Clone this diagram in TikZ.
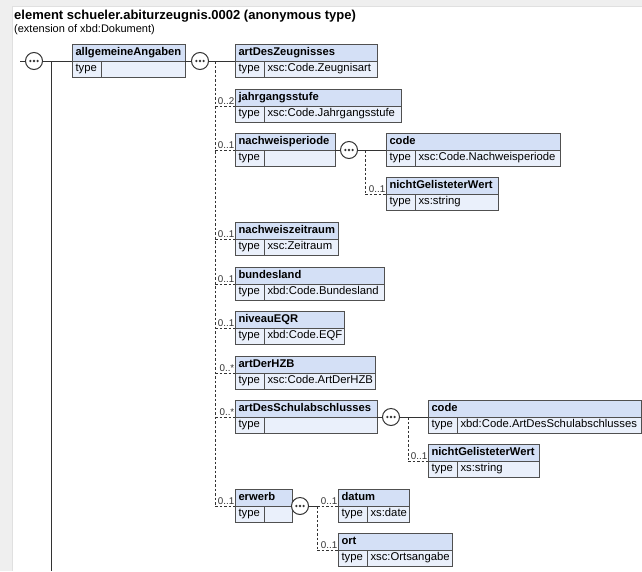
\documentclass[tikz,border=0pt]{standalone}
\usepackage{fontspec}
\setmainfont{Liberation Sans}
\usetikzlibrary{calc}
\definecolor{bx}{HTML}{505050}
\definecolor{hfill}{HTML}{D4E0F6}
\definecolor{tfill}{HTML}{EAF0FB}
\definecolor{margin}{HTML}{EFEFEF}
\definecolor{ln}{HTML}{333333}
\newcommand{\elem}[6]{%
  \pgfmathsetmacro\hw{#4-7}%
  \pgfmathsetmacro\vw{#4-29-7}%
  \node[hdr,text width=\hw pt] (#1) at (#2,#3) {#5};
  \node[tylab] (#1-t) at (#1.south west) {type};
  \node[tyval,text width=\vw pt] (#1-v) at (#1-t.north east) {#6};
}
\begin{document}
\begin{tikzpicture}[x=1pt,y=-1pt,
  hdr/.style={draw=bx, fill=hfill, line width=0.8pt, outer sep=0pt, minimum height=17pt, inner xsep=3.5pt, inner ysep=0pt,
     font=\fontsize{11.2}{13}\selectfont\bfseries, text height=8.5pt, text depth=2.5pt, align=left, anchor=north west},
  tylab/.style={draw=bx, fill=tfill, line width=0.8pt, outer sep=0pt, minimum height=16pt, text width=22pt, inner xsep=3.5pt, inner ysep=0pt,
     font=\fontsize{11.3}{13}\selectfont, text height=7.8pt, text depth=2.5pt, align=left, anchor=north west},
  tyval/.style={draw=bx, fill=tfill, line width=0.8pt, outer sep=0pt, minimum height=16pt, inner xsep=3.5pt, inner ysep=0pt,
     font=\fontsize{11.3}{13}\selectfont, text height=7.8pt, text depth=2.5pt, align=left, anchor=north west},
  seq/.style={circle, draw=ln, fill=white, line width=1pt, minimum size=17pt, inner sep=0pt,
     path picture={\fill[ln] ([xshift=-3.6pt]path picture bounding box.center) circle (1.3pt)
        (path picture bounding box.center) circle (1.3pt)
        ([xshift=3.6pt]path picture bounding box.center) circle (1.3pt);}},
  sol/.style={draw=ln, line width=0.8pt},
  dsh/.style={draw=ln, line width=0.8pt, dash pattern=on 2.5pt off 2pt},
  card/.style={font=\fontsize{9.8}{11}\selectfont, text=ln, inner sep=0pt, anchor=south east}
]
\useasboundingbox (0,0) rectangle (642,571);
\fill[margin] (0,0) rectangle (642,571);
\fill[white] (12,6) rectangle (642,571);
\draw[color=black!12, line width=0.6pt] (12,571) -- (12,6) -- (642,6);

\node[anchor=base west, inner sep=0pt, font=\fontsize{13}{15}\selectfont\bfseries] (title) at (14,19) {element schueler.abiturzeugnis.0002 (anonymous type)};
\node[anchor=base west, inner sep=0pt, font=\fontsize{11}{13}\selectfont] (sub) at (14,32.5) {(extension of xbd:Dokument)};

% elements
\elem{aa}{72}{44}{113}{allgemeineAngaben}{}
\elem{adz}{235}{44}{142}{artDesZeugnisses}{xsc:Code.Zeugnisart}
\elem{jgs}{235}{89}{166}{jahrgangsstufe}{xsc:Code.Jahrgangsstufe}
\elem{nwp}{235}{133}{100}{nachweisperiode}{}
\elem{code1}{386}{133}{174}{code}{xsc:Code.Nachweisperiode}
\elem{ngw1}{386}{177}{112}{nichtGelisteterWert}{xs:string}
\elem{nwz}{235}{222}{103}{nachweiszeitraum}{xsc:Zeitraum}
\elem{bl}{235}{267}{149}{bundesland}{xbd:Code.Bundesland}
\elem{eqr}{235}{311}{109}{niveauEQR}{xbd:Code.EQF}
\elem{hzb}{235}{356}{140}{artDerHZB}{xsc:Code.ArtDerHZB}
\elem{asa}{235}{400}{142}{artDesSchulabschlusses}{}
\elem{code2}{428}{400}{213.5}{code}{xbd:Code.ArtDesSchulabschlusses}
\elem{ngw2}{428}{444}{111}{nichtGelisteterWert}{xs:string}
\elem{erw}{235}{489}{57}{erwerb}{}
\elem{dat}{338}{489}{71}{datum}{xs:date}
\elem{ort}{338}{533}{114}{ort}{xsc:Ortsangabe}

% coordinates
\coordinate (start) at (20,61);
\coordinate (lv) at (51,61);
\coordinate (lvend) at (51,571);
\coordinate (bus) at (215,61);
\coordinate (bus1) at (365,150);
\coordinate (bus2) at (408,417);
\coordinate (bus3) at (317,506);

% solid connectors
\draw[sol] (start) -- (aa.south west);
\draw[sol] (lv) -- (lvend);
\draw[sol] (aa.south east) -- (adz.south west);
\draw[sol] (nwp.south east) -- (code1.south west);
\draw[sol] (asa.south east) -- (code2.south west);
\draw[sol] (erw.south east) -- (bus3);

% dashed buses
\draw[dsh] (bus) -- (bus |- erw.south west);
\draw[dsh] (bus1) -- (bus1 |- ngw1.south west);
\draw[dsh] (bus2) -- (bus2 |- ngw2.south west);
\draw[dsh] (bus3) -- (bus3 |- ort.south west);

% dashed stubs
\foreach \n in {jgs,nwp,nwz,bl,eqr,hzb,asa,erw}
  \draw[dsh] (bus |- \n.south west) -- (\n.south west);
\draw[dsh] (bus1 |- ngw1.south west) -- (ngw1.south west);
\draw[dsh] (bus2 |- ngw2.south west) -- (ngw2.south west);
\draw[dsh] (bus3) -- (dat.south west);
\draw[dsh] (bus3 |- ort.south west) -- (ort.south west);

% cardinalities
\node[card] at ([xshift=-0.5pt,yshift=0.8pt]jgs.south west) {0..2};
\foreach \n in {nwp,nwz,bl,eqr,erw,ngw1,ngw2,dat,ort}
  \node[card] at ([xshift=-0.5pt,yshift=0.8pt]\n.south west) {0..1};
\foreach \n in {hzb,asa}
  \node[card] at ([xshift=-0.5pt,yshift=0.8pt]\n.south west) {0..*};

% sequence symbols
\node[seq] (s0) at (34,61) {};
\node[seq] (s1) at (200,61) {};
\node[seq] (s2) at (349,150) {};
\node[seq] (s3) at (391,417) {};
\node[seq] (s4) at (300,506) {};
\end{tikzpicture}
\end{document}
